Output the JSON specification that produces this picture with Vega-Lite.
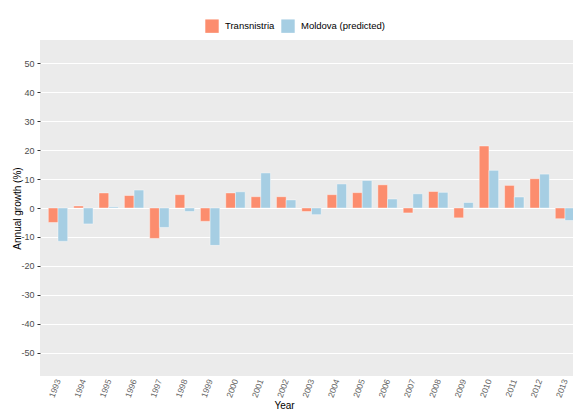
{
  "$schema": "https://vega.github.io/schema/vega-lite/v6.json",
  "autosize": "none",
  "padding": {"left": 40, "top": 40, "right": 0, "bottom": 38},
  "width": 543,
  "height": 336,
  "background": "white",
  "config": {
    "font": "Liberation Sans",
    "view": {"fill": "#EBEBEB", "stroke": null},
    "axis": {"labelFont": "Liberation Sans", "titleFont": "Liberation Sans"}
  },
  "data": {
    "values": [
      {"year": "1993", "series": "Transnistria", "growth": -5.0},
      {"year": "1993", "series": "Moldova (predicted)", "growth": -11.5},
      {"year": "1994", "series": "Transnistria", "growth": 0.7},
      {"year": "1994", "series": "Moldova (predicted)", "growth": -5.5},
      {"year": "1995", "series": "Transnistria", "growth": 5.2},
      {"year": "1995", "series": "Moldova (predicted)", "growth": 0.4},
      {"year": "1996", "series": "Transnistria", "growth": 4.3},
      {"year": "1996", "series": "Moldova (predicted)", "growth": 6.2},
      {"year": "1997", "series": "Transnistria", "growth": -10.5},
      {"year": "1997", "series": "Moldova (predicted)", "growth": -6.7},
      {"year": "1998", "series": "Transnistria", "growth": 4.6},
      {"year": "1998", "series": "Moldova (predicted)", "growth": -1.2},
      {"year": "1999", "series": "Transnistria", "growth": -4.6},
      {"year": "1999", "series": "Moldova (predicted)", "growth": -12.9},
      {"year": "2000", "series": "Transnistria", "growth": 5.2},
      {"year": "2000", "series": "Moldova (predicted)", "growth": 5.6},
      {"year": "2001", "series": "Transnistria", "growth": 3.9},
      {"year": "2001", "series": "Moldova (predicted)", "growth": 12.1},
      {"year": "2002", "series": "Transnistria", "growth": 3.9},
      {"year": "2002", "series": "Moldova (predicted)", "growth": 2.8},
      {"year": "2003", "series": "Transnistria", "growth": -1.2},
      {"year": "2003", "series": "Moldova (predicted)", "growth": -2.3},
      {"year": "2004", "series": "Transnistria", "growth": 4.6},
      {"year": "2004", "series": "Moldova (predicted)", "growth": 8.3},
      {"year": "2005", "series": "Transnistria", "growth": 5.3},
      {"year": "2005", "series": "Moldova (predicted)", "growth": 9.5},
      {"year": "2006", "series": "Transnistria", "growth": 8.0},
      {"year": "2006", "series": "Moldova (predicted)", "growth": 3.1},
      {"year": "2007", "series": "Transnistria", "growth": -1.7},
      {"year": "2007", "series": "Moldova (predicted)", "growth": 4.9},
      {"year": "2008", "series": "Transnistria", "growth": 5.7},
      {"year": "2008", "series": "Moldova (predicted)", "growth": 5.4},
      {"year": "2009", "series": "Transnistria", "growth": -3.4},
      {"year": "2009", "series": "Moldova (predicted)", "growth": 1.9},
      {"year": "2010", "series": "Transnistria", "growth": 21.4},
      {"year": "2010", "series": "Moldova (predicted)", "growth": 13.0},
      {"year": "2011", "series": "Transnistria", "growth": 7.8},
      {"year": "2011", "series": "Moldova (predicted)", "growth": 3.8},
      {"year": "2012", "series": "Transnistria", "growth": 10.1},
      {"year": "2012", "series": "Moldova (predicted)", "growth": 11.7},
      {"year": "2013", "series": "Transnistria", "growth": -3.7},
      {"year": "2013", "series": "Moldova (predicted)", "growth": -4.3}
    ]
  },
  "mark": {"type": "bar", "stroke": "white", "strokeWidth": 1, "strokeOpacity": 0.4},
  "encoding": {
    "x": {
      "field": "year",
      "type": "nominal",
      "scale": {"paddingInner": 0.235, "paddingOuter": 0.328},
      "axis": {
        "title": "Year",
        "titleFontSize": 10,
        "titleFontWeight": "normal",
        "titleColor": "black",
        "titleX": 244,
        "titleY": 24,
        "labelAngle": -70,
        "labelAlign": "right",
        "labelBaseline": "middle",
        "labelFontSize": 8.5,
        "labelColor": "#666666",
        "labelPadding": 3,
        "domain": false,
        "ticks": false,
        "grid": false
      }
    },
    "xOffset": {"field": "series", "type": "nominal", "sort": ["Transnistria", "Moldova (predicted)"], "scale": {"paddingInner": 0}},
    "y": {
      "field": "growth",
      "type": "quantitative",
      "scale": {"domain": [-58, 58], "nice": false, "zero": false},
      "axis": {
        "title": "Annual growth (%)",
        "titleFontSize": 10,
        "titleFontWeight": "normal",
        "titleColor": "black",
        "titleX": -18,
        "titleY": 168,
        "values": [-50, -40, -30, -20, -10, 0, 10, 20, 30, 40, 50],
        "labelExpr": "toString(datum.value)",
        "labelFontSize": 9,
        "labelColor": "#4D4D4D",
        "labelPadding": 3,
        "domain": false,
        "tickColor": "#333333",
        "tickSize": 3,
        "gridColor": "white",
        "gridWidth": 1
      }
    },
    "color": {
      "field": "series",
      "type": "nominal",
      "sort": ["Transnistria", "Moldova (predicted)"],
      "scale": {"domain": ["Transnistria", "Moldova (predicted)"], "range": ["#FC8D6E", "#A6CEE3"]},
      "legend": {
        "title": null,
        "orient": "none",
        "direction": "horizontal",
        "legendX": 165,
        "legendY": -21,
        "symbolType": "square",
        "symbolSize": 180,
        "symbolStrokeWidth": 0,
        "labelFontSize": 9.5,
        "labelColor": "black",
        "columnPadding": 6,
        "labelOffset": 6
      }
    }
  }
}
